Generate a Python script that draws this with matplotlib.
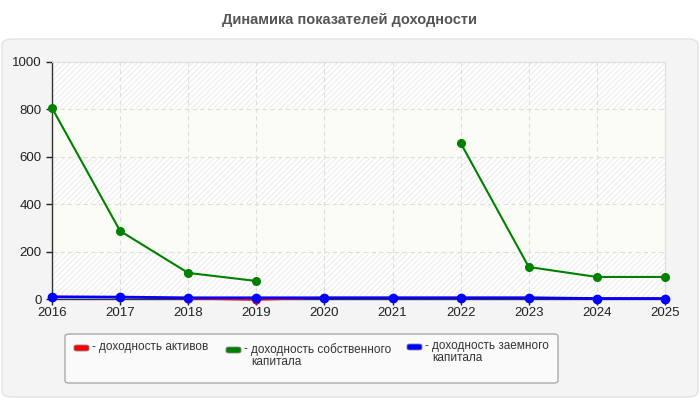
import numpy as np
import matplotlib
matplotlib.use("Agg")
import matplotlib.pyplot as plt
from matplotlib.patches import FancyBboxPatch

plt.rcParams['font.family'] = ['Liberation Sans', 'DejaVu Sans']
plt.rcParams['hatch.linewidth'] = 0.6
plt.rcParams['hatch.color'] = '#e6e6e6'

years = [2016, 2017, 2018, 2019, 2020, 2021, 2022, 2023, 2024, 2025]
# доходность активов (mostly hidden behind the blue line)
assets = [9, 8, 2, -3, 5, 5, 5, 5, 2, 2]
# доходность собственного капитала, gaps in 2020-2021
equity = [806, 287, 110, 76, np.nan, np.nan, 658, 135, 93, 93]
# доходность заемного капитала
debt = [9, 8, 5, 5, 5, 5, 5, 5, 2, 2]

labels = ["доходность активов",
          "доходность собственного\nкапитала",
          "доходность заемного\nкапитала"]
colors = ["#ff0000", "#008000", "#0000ff"]

fig = plt.figure(figsize=(7, 4), dpi=100)
fig.patch.set_facecolor('white')

# outer rounded panel
panel = FancyBboxPatch((2 / 700, 3 / 400), 696 / 700, 358 / 400,
                       boxstyle="round,pad=0,rounding_size=0.015",
                       transform=fig.transFigure, facecolor='#f4f4f4',
                       edgecolor='#e2e2e2', linewidth=1, zorder=-5)
fig.patches.append(panel)

fig.text(0.5, 1 - 20 / 400, "Динамика показателей доходности", ha='center', va='center',
         fontsize=10.5, fontweight='bold', color='#555555')

ax = fig.add_axes([52 / 700, 1 - 299 / 400, 613 / 700, 237 / 400])
ax.set_zorder(2)
ax.set_facecolor('white')

# alternating bands
for i, lo in enumerate(range(0, 1000, 200)):
    if i % 2 == 0:
        ax.axhspan(lo, lo + 200, facecolor='white', hatch='//////', edgecolor='#e8e8e8',
                   linewidth=0, zorder=0)
    else:
        ax.axhspan(lo, lo + 200, facecolor='#fbfcf6', linewidth=0, zorder=0)

ax.set_xlim(years[0], years[-1])
ax.set_ylim(0, 1000)
ax.set_xticks(years)
ax.set_yticks(range(0, 1001, 200))
ax.grid(True, color='#dddddd', linestyle=(0, (4, 3)), linewidth=0.8, zorder=1)

ax.plot(years, assets, color=colors[0], linewidth=1.5, marker='o', markersize=5, zorder=3,
        clip_on=False)
ax.plot(years, equity, color=colors[1], linewidth=1.5, marker='o', markersize=5.5, zorder=4,
        clip_on=False)
ax.plot(years, debt, color=colors[2], linewidth=2, marker='o', markersize=6, zorder=5,
        clip_on=False)

for s in ['top', 'right']:
    ax.spines[s].set_color('#dddddd')
    ax.spines[s].set_linewidth(0.8)
for s in ['left', 'bottom']:
    ax.spines[s].set_color('#333333')
    ax.spines[s].set_linewidth(1)
ax.tick_params(axis='both', labelsize=9.5, colors='#222222', length=4, width=1)
ax.tick_params(axis='x', pad=2)

# legend box
leg = FancyBboxPatch((65 / 700, 1 - 383 / 400), 493 / 700, 49 / 400,
                     boxstyle="round,pad=0,rounding_size=0.006",
                     transform=fig.transFigure, facecolor='#fafafa',
                     edgecolor='#aaaaaa', linewidth=1, zorder=1)
fig.patches.append(leg)

item_x = [74, 226, 407]
item_y = [348, 350, 347]
for x, y, c, lab in zip(item_x, item_y, colors, labels):
    sw = FancyBboxPatch(((x) / 700, 1 - (y + 3) / 400), 15 / 700, 6 / 400,
                        boxstyle="round,pad=0,rounding_size=0.004",
                        transform=fig.transFigure, facecolor=c, edgecolor='#888888',
                        linewidth=0.6, zorder=2)
    fig.patches.append(sw)
    fig.text((x + 18) / 700, 1 - (y - 7) / 400, "-", ha='left', va='top',
             fontsize=8.5, color='#333333')
    fig.text((x + 25) / 700, 1 - (y - 7) / 400, lab, ha='left', va='top',
             fontsize=8.5, color='#333333', linespacing=1.05)

fig.savefig("out.png", dpi=100)
